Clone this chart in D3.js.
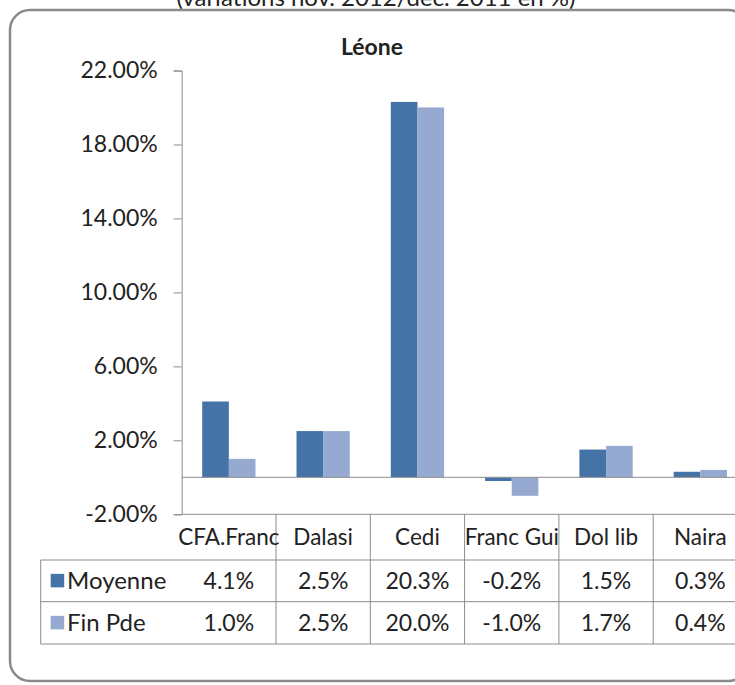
<!DOCTYPE html>
<html>
<head>
<meta charset="utf-8">
<script src="https://cdn.jsdelivr.net/npm/d3@7"></script>
<style>
  body { margin: 0; background: #fff; }
  text { font-family: Lato, "Noto Sans", sans-serif; fill: #222; }
</style>
</head>
<body>
<div id="chart"></div>
<script>
// data
const categories = ["CFA.Franc", "Dalasi", "Cedi", "Franc Gui", "Dol lib", "Naira"];
const seriesNames = ["Moyenne", "Fin Pde"];
const moyenne = [4.1, 2.5, 20.3, -0.2, 1.5, 0.3];
const finPde = [1.0, 2.5, 20.0, -1.0, 1.7, 0.4];
const yTicks = [-2, 2, 6, 10, 14, 18, 22];
const colors = ["#4572a7", "#95a9d1"];

const W = 735, H = 685;
const svg = d3.select("#chart").append("svg")
    .attr("width", W)
    .attr("height", H);

svg.append("rect").attr("width", W).attr("height", H).attr("fill", "#fff");

// hyphen instead of unicode minus, like the original
const pct = (fmt) => d => d3.format(fmt)(d).replace("\u2212", "-") + "%";

// subtitle cut off at the top
svg.append("text")
    .attr("x", 376).attr("y", 6)
    .attr("text-anchor", "middle")
    .style("font-size", "24px")
    .text("(variations nov. 2012/déc. 2011 en %)");

// chart frame
svg.append("rect")
    .attr("x", 10).attr("y", 10)
    .attr("width", 738).attr("height", 671)
    .attr("rx", 20).attr("ry", 20)
    .attr("fill", "none")
    .attr("stroke", "#8a8a8a")
    .attr("stroke-width", 2.5);

svg.append("text")
    .attr("x", 372).attr("y", 55)
    .attr("text-anchor", "middle")
    .style("font-size", "23px")
    .style("font-weight", "bold")
    .text("Léone");

// scales
const x0 = d3.scaleBand().domain(categories).range([181.7, 747.5]);
const x1 = d3.scaleBand().domain(seriesNames).range([0, x0.bandwidth()])
    .paddingInner(0).paddingOuter(0.77);
const y = d3.scaleLinear().domain([-2, 22]).range([514.3, 70.5]);

const grey = "#8c8c8c";

// y axis
const yAxis = svg.append("g")
    .attr("transform", "translate(181.7,0)")
    .call(d3.axisLeft(y).tickValues(yTicks).tickSize(8).tickPadding(16)
        .tickFormat(pct(".2f")));
yAxis.select(".domain").attr("stroke", grey);
yAxis.selectAll(".tick line").attr("stroke", grey);
yAxis.selectAll(".tick text").style("font-size", "23px").attr("fill", "#222")
    .style("font-family", "Lato, sans-serif");

// bars
const rows = categories.map((c, i) => ({ cat: c, vals: [moyenne[i], finPde[i]] }));
const groups = svg.selectAll(".grp").data(rows).enter().append("g")
    .attr("transform", d => `translate(${x0(d.cat)},0)`);
groups.selectAll("rect")
    .data(d => d.vals.map((v, k) => ({ v, s: seriesNames[k], k })))
    .enter().append("rect")
    .attr("x", d => x1(d.s))
    .attr("width", x1.bandwidth())
    .attr("y", d => y(Math.max(0, d.v)))
    .attr("height", d => Math.abs(y(d.v) - y(0)))
    .attr("fill", d => colors[d.k]);

// zero line
svg.append("line")
    .attr("x1", 181.7).attr("x2", 747.5)
    .attr("y1", y(0)).attr("y2", y(0))
    .attr("stroke", grey);

// data table
const tableLeft = 40.7;
const rowY = [y(-2), 560, 601.7, 644];
const right = 747.5;

svg.append("line").attr("x1", 181.7).attr("x2", right)
    .attr("y1", rowY[0]).attr("y2", rowY[0]).attr("stroke", grey);
rowY.slice(1).forEach(yy => {
    svg.append("line").attr("x1", tableLeft).attr("x2", right)
        .attr("y1", yy).attr("y2", yy).attr("stroke", grey);
});
svg.append("line").attr("x1", tableLeft).attr("x2", tableLeft)
    .attr("y1", rowY[1]).attr("y2", rowY[3]).attr("stroke", grey);
categories.forEach(c => {
    svg.append("line").attr("x1", x0(c) + x0.bandwidth()).attr("x2", x0(c) + x0.bandwidth())
        .attr("y1", rowY[0]).attr("y2", rowY[3]).attr("stroke", grey);
});

svg.selectAll(".catlab").data(categories).enter().append("text")
    .attr("x", d => x0(d) + x0.bandwidth() / 2)
    .attr("y", 545)
    .attr("text-anchor", "middle")
    .style("font-size", "22.5px")
    .text(d => d);

const seriesVals = [moyenne, finPde];
seriesNames.forEach((s, k) => {
    const yy = (rowY[k + 1] + rowY[k + 2]) / 2;
    svg.append("rect")
        .attr("x", 50.7).attr("y", yy - 7)
        .attr("width", 13.5).attr("height", 13.5)
        .attr("fill", colors[k]);
    svg.append("text")
        .attr("x", 67).attr("y", yy + 8)
        .style("font-size", "24px")
        .text(s);
    svg.selectAll(".val" + k).data(seriesVals[k]).enter().append("text")
        .attr("x", (d, i) => x0(categories[i]) + x0.bandwidth() / 2)
        .attr("y", yy + 8)
        .attr("text-anchor", "middle")
        .style("font-size", "23px")
        .text(pct(".1f"));
});
</script>
</body>
</html>
